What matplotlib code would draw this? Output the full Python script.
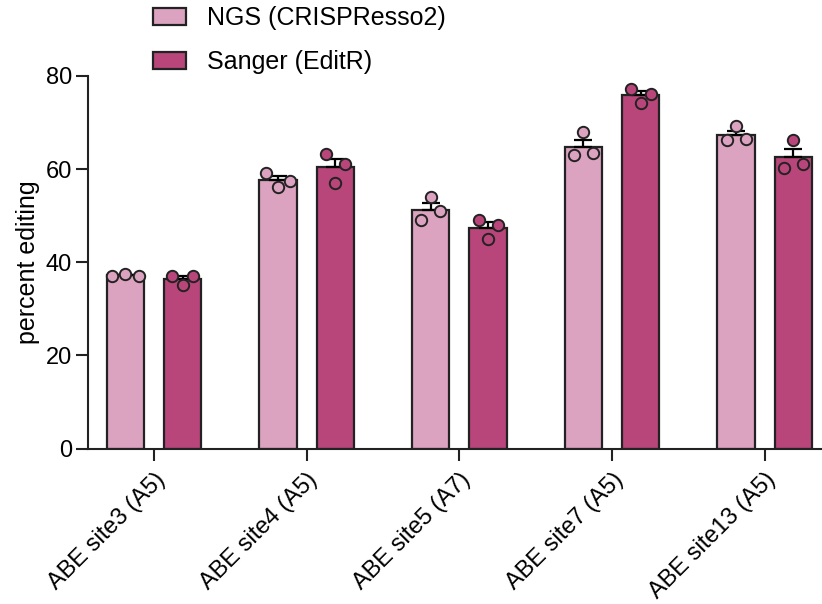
import numpy as np
import matplotlib
matplotlib.use('Agg')
import matplotlib.pyplot as plt

plt.rcParams['font.family'] = ['Liberation Sans', 'DejaVu Sans']

sites = ['ABE site3 (A5)', 'ABE site4 (A5)', 'ABE site5 (A7)', 'ABE site7 (A5)', 'ABE site13 (A5)']

# replicate values (left, middle, right point)
ngs_site3 = [37.1, 37.5, 37.1]
ngs_site4 = [59.2, 56.2, 57.4]
ngs_site5 = [49.0, 54.0, 50.9]
ngs_site7 = [63.0, 67.9, 63.4]
ngs_site13 = [66.2, 69.2, 66.5]

sanger_site3 = [37.1, 35.2, 37.1]
sanger_site4 = [63.2, 57.1, 61.1]
sanger_site5 = [49.1, 45.1, 48.1]
sanger_site7 = [77.2, 74.2, 76.2]
sanger_site13 = [60.2, 66.2, 61.1]

ngs = [ngs_site3, ngs_site4, ngs_site5, ngs_site7, ngs_site13]
sanger = [sanger_site3, sanger_site4, sanger_site5, sanger_site7, sanger_site13]

series = [
    ('NGS (CRISPResso2)', ngs, '#DCA3C0'),
    ('Sanger (EditR)', sanger, '#B8467A'),
]

fig = plt.figure(figsize=(8.22, 6.04), dpi=100)
ax = fig.add_axes([88 / 822, 1 - 448.5 / 604, 1 - 88 / 822, (448.5 - 76) / 604])
ax.set_xlim(-0.432, 4.375)
ax.set_ylim(0, 80)

# pixel scale of the data axes, used to spread replicate dots
p0 = ax.transData.transform((0, 0))
p1 = ax.transData.transform((1, 1))
px_x = p1[0] - p0[0]
px_y = p1[1] - p0[1]

x = np.arange(len(sites))
offset = 0.188
width = 0.245
edge = '#222222'

handles = []
for k, (label, reps, color) in enumerate(series):
    xs = x + (k - 0.5) * 2 * offset
    means = np.array([np.mean(r) for r in reps])
    sems = np.array([np.std(r, ddof=1) / np.sqrt(len(r)) for r in reps])
    h = ax.bar(xs, means, width, color=color, edgecolor=edge, linewidth=1.6,
               label=label, zorder=2)
    handles.append(h)
    ax.errorbar(xs, means, yerr=[np.zeros_like(sems), sems], fmt='none',
                ecolor='black', elinewidth=1.6, capsize=6.8, capthick=1.6, zorder=3)
    for xc, r in zip(xs, reps):
        r = np.asarray(r)
        spread = 9.5
        for a, b in [(0, 1), (1, 2)]:
            dy = abs(r[a] - r[b]) * px_y
            spread = max(spread, np.sqrt(max(13.5 ** 2 - dy ** 2, 0)))
        px = xc + np.array([-1, 0, 1]) * spread / px_x
        ax.plot(px, r, 'o', ms=8.2, mfc=color, mec=edge, mew=1.4, zorder=4,
                clip_on=False)

for s in ['top', 'right']:
    ax.spines[s].set_visible(False)
for s in ['left', 'bottom']:
    ax.spines[s].set_linewidth(1.5)
    ax.spines[s].set_color('#222222')

ax.set_yticks([0, 20, 40, 60, 80])
ax.set_xticks(x)
ax.set_xticklabels(sites, rotation=45, ha='right', va='top', rotation_mode='anchor')
ax.tick_params(axis='both', length=8.5, width=1.5, color='#222222', labelsize=17, pad=3)
ax.tick_params(axis='x', pad=6)
ax.set_ylabel('percent editing', fontsize=18, labelpad=4)

fig.legend(handles=handles, loc='upper left', bbox_to_anchor=(153 / 822, 1 - 6 / 604),
           frameon=False, fontsize=18, borderpad=0, borderaxespad=0,
           handlelength=1.32, handleheight=0.68, handletextpad=0.84, labelspacing=0.82)

fig.savefig('out.png', dpi=100)
